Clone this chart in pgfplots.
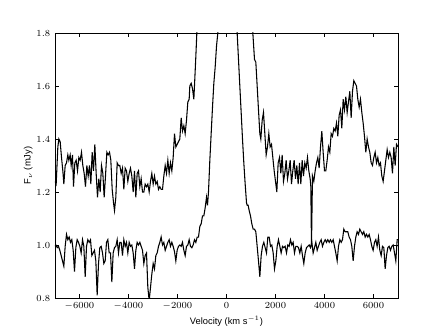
\documentclass[border=0pt]{standalone}
\usepackage{fontspec}
\setmainfont{Liberation Sans}
\usepackage{pgfplots}
\pgfplotsset{compat=1.18}

\begin{document}
\begin{tikzpicture}
\begin{axis}[
    at={(0pt,0pt)}, anchor=south west,
    scale only axis,
    width=257.25pt,
    height=198.75pt,
    xmin=-7000, xmax=7000,
    ymin=0.8, ymax=1.8,
    xtick={-6000,-4000,...,6000},
    ytick={0.8,1.0,...,1.8},
    yticklabel style={/pgf/number format/.cd,fixed,fixed zerofill,precision=1},
    xticklabel style={/pgf/number format/.cd,fixed,1000 sep={}},
    scaled x ticks=false,
    tick align=inside,
    major tick length=3pt,
    tick style={black, line width=0.5pt},
    axis line style={black, line width=0.6pt},
    ticklabel style={font=\fontsize{7}{8}\selectfont},
    label style={font=\fontsize{7}{8}\selectfont},
    xlabel={Velocity (km s$^{-1}$)},
    ylabel={F$_\nu$ (mJy)},
    xlabel style={yshift=2pt},
    ylabel style={yshift=-4pt},
]
% upper spectrum
\addplot[black, line width=0.8pt] coordinates {
(-7000,1.24)(-6952,1.23)(-6884,1.37)(-6843,1.40)(-6789,1.39)(-6734,1.33)(-6680,1.28)(-6639,1.23)(-6585,1.30)(-6530,1.31)(-6476,1.34)(-6435,1.32)(-6381,1.34)(-6340,1.30)(-6286,1.34)(-6245,1.22)(-6190,1.31)(-6136,1.32)(-6081,1.28)(-6027,1.33)(-5973,1.32)(-5918,1.35)(-5864,1.30)(-5809,1.27)(-5755,1.22)(-5700,1.30)(-5646,1.26)(-5592,1.30)(-5537,1.23)(-5483,1.35)(-5428,1.28)(-5374,1.38)(-5320,1.27)(-5265,1.18)(-5211,1.25)(-5156,1.20)(-5102,1.30)(-5047,1.27)(-4993,1.18)(-4939,1.26)(-4884,1.35)(-4830,1.34)(-4775,1.35)(-4721,1.32)(-4666,1.21)(-4612,1.16)(-4571,1.13)(-4517,1.18)(-4462,1.31)(-4408,1.30)(-4354,1.30)(-4299,1.27)(-4245,1.29)(-4190,1.21)(-4136,1.29)(-4082,1.28)(-4027,1.24)(-3973,1.27)(-3918,1.29)(-3864,1.26)(-3809,1.20)(-3755,1.28)(-3701,1.18)(-3646,1.27)(-3592,1.28)(-3537,1.22)(-3483,1.25)(-3428,1.20)(-3374,1.20)(-3320,1.23)(-3265,1.22)(-3211,1.23)(-3156,1.20)(-3102,1.24)(-3048,1.27)(-2993,1.23)(-2939,1.26)(-2884,1.23)(-2830,1.24)(-2775,1.21)(-2721,1.22)(-2667,1.21)(-2612,1.21)(-2558,1.26)(-2503,1.30)(-2449,1.27)(-2394,1.32)(-2340,1.27)(-2286,1.31)(-2231,1.28)(-2177,1.33)(-2122,1.42)(-2068,1.37)(-2014,1.38)(-1959,1.39)(-1905,1.40)(-1850,1.48)(-1796,1.43)(-1741,1.45)(-1687,1.42)(-1633,1.47)(-1578,1.54)(-1524,1.55)(-1497,1.60)(-1442,1.61)(-1388,1.59)(-1333,1.55)(-1292,1.63)(-1252,1.71)(-1211,1.80)(-1150,2.00)(-900,2.60)(200,3.50)(900,2.60)(1040,1.95)(1075,1.80)(1143,1.70)(1197,1.69)(1252,1.60)(1306,1.51)(1361,1.42)(1401,1.40)(1456,1.47)(1510,1.50)(1565,1.42)(1619,1.34)(1673,1.37)(1728,1.42)(1782,1.37)(1837,1.38)(1891,1.33)(1946,1.28)(2000,1.24)(2054,1.20)(2109,1.31)(2163,1.33)(2218,1.27)(2272,1.34)(2326,1.24)(2381,1.27)(2435,1.32)(2490,1.25)(2544,1.28)(2599,1.32)(2653,1.23)(2707,1.28)(2762,1.32)(2816,1.25)(2871,1.30)(2925,1.23)(2979,1.31)(3034,1.23)(3088,1.32)(3143,1.26)(3197,1.31)(3252,1.29)(3306,1.33)(3360,1.28)(3415,1.25)(3442,1.22)(3469,0.995)(3510,1.26)(3564,1.24)(3619,1.28)(3673,1.31)(3728,1.33)(3782,1.29)(3837,1.37)(3891,1.43)(3945,1.35)(4000,1.28)(4054,1.28)(4109,1.32)(4163,1.37)(4218,1.35)(4272,1.42)(4326,1.41)(4381,1.44)(4435,1.43)(4490,1.46)(4544,1.41)(4598,1.49)(4653,1.51)(4707,1.44)(4762,1.55)(4816,1.51)(4871,1.56)(4925,1.50)(4979,1.54)(5034,1.58)(5088,1.48)(5143,1.58)(5197,1.62)(5252,1.61)(5306,1.60)(5360,1.55)(5415,1.52)(5469,1.55)(5524,1.50)(5578,1.46)(5632,1.41)(5687,1.35)(5741,1.40)(5796,1.37)(5850,1.35)(5905,1.31)(5959,1.30)(6013,1.33)(6068,1.35)(6122,1.31)(6177,1.33)(6231,1.30)(6285,1.31)(6340,1.26)(6394,1.24)(6449,1.28)(6503,1.32)(6558,1.36)(6612,1.33)(6666,1.35)(6721,1.33)(6775,1.27)(6830,1.37)(6884,1.30)(6939,1.38)(7000,1.37)
};
% lower spectrum
\addplot[black, line width=0.8pt] coordinates {
(-7000,0.995)(-6966,1.00)(-6911,0.99)(-6857,0.995)(-6803,0.98)(-6748,0.96)(-6694,0.94)(-6639,0.92)(-6585,0.995)(-6530,1.04)(-6476,1.02)(-6422,1.03)(-6367,1.01)(-6313,1.02)(-6258,0.98)(-6204,0.90)(-6149,0.99)(-6095,1.02)(-6041,1.01)(-5986,0.995)(-5932,0.97)(-5877,1.02)(-5823,0.995)(-5768,0.88)(-5714,0.995)(-5660,1.02)(-5605,1.01)(-5551,1.02)(-5496,0.96)(-5442,0.97)(-5388,0.98)(-5333,0.94)(-5279,0.81)(-5224,0.93)(-5170,0.99)(-5115,0.995)(-5061,0.97)(-5006,0.93)(-4952,0.94)(-4898,1.01)(-4843,1.02)(-4789,0.97)(-4734,0.97)(-4680,0.86)(-4626,0.97)(-4571,0.99)(-4517,0.995)(-4462,1.02)(-4408,0.97)(-4354,1.01)(-4299,1.01)(-4245,0.96)(-4190,1.02)(-4136,0.995)(-4082,1.01)(-4027,0.97)(-3973,1.01)(-3918,0.995)(-3864,1.00)(-3809,0.97)(-3755,0.91)(-3701,0.98)(-3646,1.01)(-3592,1.00)(-3537,1.01)(-3483,0.995)(-3428,0.98)(-3374,0.93)(-3320,0.96)(-3265,0.97)(-3211,0.84)(-3156,0.79)(-3102,0.84)(-3048,0.89)(-2993,0.93)(-2939,0.91)(-2884,0.96)(-2830,0.97)(-2775,0.995)(-2721,1.01)(-2667,1.03)(-2612,1.00)(-2558,1.01)(-2503,0.98)(-2449,0.995)(-2394,1.01)(-2340,1.02)(-2286,0.995)(-2231,1.01)(-2177,0.995)(-2122,0.975)(-2068,0.94)(-2014,0.98)(-1959,0.995)(-1905,1.00)(-1850,0.995)(-1796,1.01)(-1741,0.98)(-1687,0.96)(-1633,0.995)(-1578,1.00)(-1524,1.02)(-1470,0.995)(-1415,0.99)(-1361,1.00)(-1306,1.02)(-1252,1.01)(-1197,1.03)(-1143,1.03)(-1088,1.07)(-1034,1.08)(-980,1.11)(-925,1.11)(-871,1.14)(-816,1.18)(-775,1.15)(-735,1.20)(-680,1.32)(-626,1.42)(-571,1.52)(-517,1.61)(-463,1.67)(-408,1.75)(-354,1.80)(-250,2.10)(50,3.00)(350,2.10)(435,1.80)(490,1.70)(544,1.60)(599,1.50)(653,1.40)(707,1.31)(762,1.23)(816,1.16)(844,1.15)(884,1.15)(925,1.13)(980,1.11)(1034,1.08)(1088,1.06)(1143,1.06)(1197,1.05)(1252,0.995)(1306,0.94)(1361,0.88)(1415,0.96)(1469,0.995)(1524,1.01)(1578,0.99)(1633,0.97)(1687,1.03)(1741,1.03)(1796,0.995)(1850,1.00)(1905,0.97)(1959,0.91)(2014,0.94)(2068,0.995)(2122,1.02)(2177,0.995)(2231,0.97)(2286,0.995)(2340,0.99)(2394,0.995)(2449,0.97)(2503,1.00)(2558,0.995)(2612,1.02)(2667,1.00)(2721,1.01)(2775,0.97)(2830,0.995)(2884,0.995)(2939,0.99)(2993,0.97)(3048,0.995)(3102,0.96)(3156,0.93)(3211,0.97)(3265,0.99)(3320,0.995)(3374,1.00)(3428,0.99)(3483,1.01)(3537,0.97)(3592,0.99)(3646,1.01)(3701,0.98)(3755,0.995)(3809,1.01)(3864,1.02)(3918,0.995)(3973,1.01)(4027,1.02)(4082,1.01)(4136,1.02)(4190,1.01)(4245,1.02)(4299,1.01)(4354,1.02)(4408,0.995)(4462,0.97)(4517,0.94)(4571,0.995)(4626,1.02)(4680,1.01)(4734,1.02)(4789,1.06)(4843,1.05)(4898,1.05)(4952,1.05)(5006,1.03)(5061,1.02)(5115,0.995)(5170,0.94)(5224,0.995)(5279,1.03)(5333,1.05)(5388,1.04)(5442,1.06)(5496,1.05)(5551,1.04)(5605,1.05)(5660,1.03)(5714,1.04)(5768,1.03)(5823,1.04)(5877,1.02)(5932,0.995)(5986,0.98)(6041,1.01)(6095,1.02)(6149,0.995)(6204,1.03)(6258,0.98)(6313,0.96)(6367,0.995)(6422,0.99)(6476,0.91)(6530,0.96)(6585,0.99)(6639,0.995)(6694,0.98)(6748,0.995)(6803,1.00)(6857,0.97)(6911,0.94)(6966,1.02)(7000,1.02)
};
\end{axis}
\pgfresetboundingbox
\useasboundingbox (-41.25pt,-25.5pt) rectangle (291pt,223.5pt);
\end{tikzpicture}
\end{document}
